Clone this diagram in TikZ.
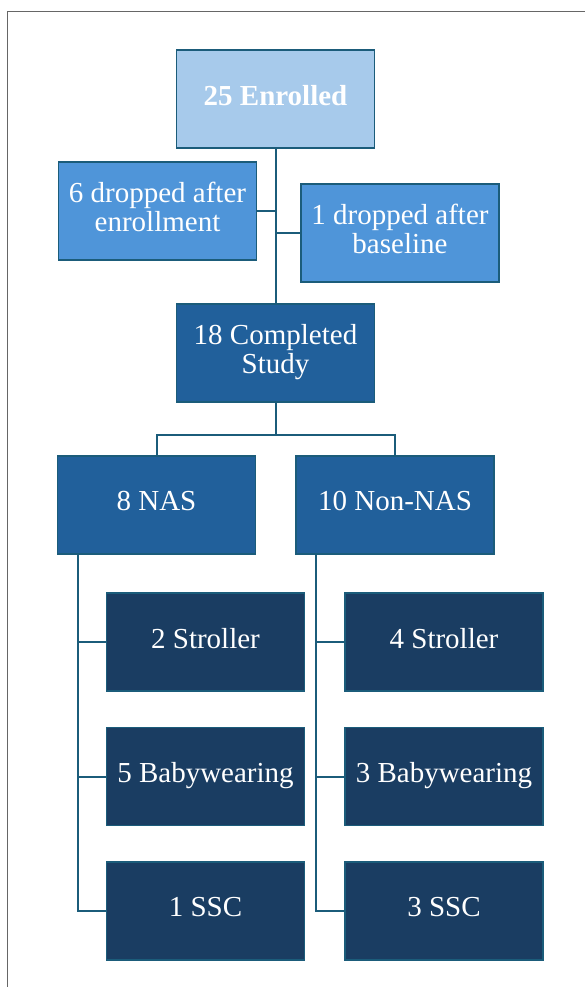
\documentclass[tikz,border=0pt]{standalone}
\usepackage{fontspec}
\setmainfont{Liberation Serif}
\usepackage{xcolor}
\definecolor{boxlight}{HTML}{A7CAEB}
\definecolor{boxmid}{HTML}{4F95D9}
\definecolor{boxdark}{HTML}{21609B}
\definecolor{boxnavy}{HTML}{1A3D62}
\definecolor{linkcol}{HTML}{1B5C7A}
\tikzset{
	flowbox/.style={draw=linkcol, line width=1.8pt, text=white, align=center,
		minimum width=198pt, minimum height=98pt, inner sep=2pt, text depth=8pt,
		font=\fontsize{29}{29}\selectfont},
	link/.style={draw=linkcol, line width=2pt}
}
\begin{document}
\begin{tikzpicture}[x=1pt,y=-1pt]
\useasboundingbox (0,0) rectangle (585,987);
\draw[gray!80!black, line width=1.5pt] (7.5,987) -- (7.5,11.5) -- (585,11.5);
\node[flowbox, fill=boxlight, font=\fontsize{29}{29}\selectfont\bfseries] (enrolled) at (275.5,99) {25 Enrolled};
\node[flowbox, fill=boxmid] (dropA) at (157.5,211) {6 dropped after\\enrollment};
\node[flowbox, fill=boxmid] (dropB) at (400,233) {1 dropped after\\baseline};
\node[flowbox, fill=boxdark] (completed) at (275.5,353) {18 Completed\\Study};
\node[flowbox, fill=boxdark] (nas) at (156.5,505) {8 NAS};
\node[flowbox, fill=boxdark] (nonnas) at (395,505) {10 Non-NAS};
\draw[link] (enrolled.south) -- (completed.north);
\draw[link] (dropA.east) -- (dropA.east -| enrolled.south);
\draw[link] (dropB.west) -- (dropB.west -| enrolled.south);
\coordinate (split) at (275.5,435);
\draw[link] (completed.south) -- (split);
\draw[link] (split) -| (nas.north);
\draw[link] (split) -| (nonnas.north);
\coordinate (nasT) at ([xshift=21pt]nas.south west);
\coordinate (nonT) at ([xshift=21pt]nonnas.south west);
\foreach \lbl/\y [count=\i] in {2 Stroller/642,5 Babywearing/776.5,1 SSC/911}
{
	\node[flowbox, fill=boxnavy] (nasc\i) at (205.5,\y) {\lbl};
	\draw[link] (nasT) |- (nasc\i.west);
}
\foreach \lbl/\y [count=\i] in {4 Stroller/642,3 Babywearing/776.5,3 SSC/911}
{
	\node[flowbox, fill=boxnavy] (nonc\i) at (444,\y) {\lbl};
	\draw[link] (nonT) |- (nonc\i.west);
}
\end{tikzpicture}
\end{document}
